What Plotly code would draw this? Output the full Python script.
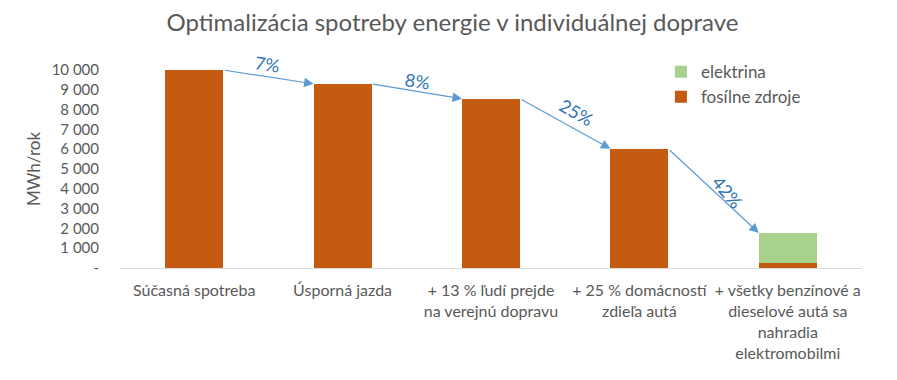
import plotly.graph_objects as go

categories = [
    "Súčasná spotreba",
    "Úsporná jazda",
    "+ 13 % ľudí prejde<br>na verejnú dopravu",
    "+ 25 % domácností<br>zdieľa autá",
    "+ všetky benzínové a<br>dieselové autá sa<br>nahradia<br>elektromobilmi",
]
fossil = [10000, 9300, 8550, 6020, 270]
electricity = [0, 0, 0, 0, 1500]
reductions = ["7%", "8%", "25%", "42%"]
label_angles = [9, 9, 30, 50]
label_shift = [(-1, 13), (1, 10), (11, 12), (14, -1)]

y_ticks = [0, 1000, 2000, 3000, 4000, 5000, 6000, 7000, 8000, 9000, 10000]
y_ticktext = ["-"] + [f"{v // 1000} 000" for v in y_ticks[1:]]

FONT = "Lato"
GRAY = "#595959"
ORANGE = "#C55A11"
GREEN = "#A9D18E"
BLUE_LINE = "#5B9BD5"
BLUE_TEXT = "#2E75B6"

x = list(range(len(categories)))
bar_w = 0.39

fig = go.Figure()
fig.add_trace(go.Bar(x=x, y=fossil, name="fosílne zdroje", marker_color=ORANGE,
                     width=bar_w, marker_line_width=0))
fig.add_trace(go.Bar(x=x, y=electricity, name="elektrina", marker_color=GREEN,
                     width=bar_w, marker_line_width=0))

totals = [f + e for f, e in zip(fossil, electricity)]
annotations = []
for i in range(len(categories) - 1):
    x0 = x[i] + bar_w / 2
    x1 = x[i + 1] - bar_w / 2
    y0 = totals[i]
    y1 = totals[i + 1]
    annotations.append(dict(
        x=x1, y=y1, ax=x0, ay=y0, xref="x", yref="y", axref="x", ayref="y",
        showarrow=True, arrowhead=2, arrowsize=1.6, arrowwidth=1.2,
        arrowcolor=BLUE_LINE, text="", standoff=0,
    ))
    annotations.append(dict(
        x=(x0 + x1) / 2, y=(y0 + y1) / 2, xref="x", yref="y",
        text=reductions[i], showarrow=False, textangle=label_angles[i],
        xshift=label_shift[i][0], yshift=label_shift[i][1],
        font=dict(family=FONT, size=18, color=BLUE_TEXT),
    ))

# The page body adds an 8 px offset; the figure is sized so it fits the window.
fig.update_layout(
    barmode="stack",
    width=889, height=372,
    margin=dict(l=112, r=35, t=62, b=112, autoexpand=False),
    paper_bgcolor="white", plot_bgcolor="white",
    title=dict(text="Optimalizácia spotreby energie v individuálnej doprave",
               x=0.5, xanchor="center", y=0.96, yanchor="middle",
               font=dict(family=FONT, size=24, color=GRAY)),
    font=dict(family=FONT, color=GRAY),
    showlegend=True,
    legend=dict(x=0.729, y=1.08, xanchor="left", yanchor="top",
                traceorder="reversed", font=dict(family=FONT, size=17, color=GRAY),
                bgcolor="rgba(0,0,0,0)", itemwidth=30, tracegroupgap=0),
    annotations=annotations,
)
fig.update_xaxes(
    tickmode="array", tickvals=x, ticktext=categories,
    range=[-0.5, len(categories) - 0.5], automargin=False,
    ticklabelstandoff=8,
    showline=True, linecolor="#D9D9D9", linewidth=1,
    showgrid=False, zeroline=False, ticks="",
    tickfont=dict(family=FONT, size=16, color=GRAY),
)
fig.update_yaxes(
    range=[0, 10000], tickmode="array", tickvals=y_ticks, ticktext=y_ticktext,
    automargin=False, ticklabelstandoff=20,
    showgrid=False, zeroline=False, showline=False, ticks="",
    tickfont=dict(family=FONT, size=15, color=GRAY),
    title=dict(text="MWh/rok", font=dict(family=FONT, size=17, color=GRAY), standoff=6),
)

fig.write_html("out.html")
